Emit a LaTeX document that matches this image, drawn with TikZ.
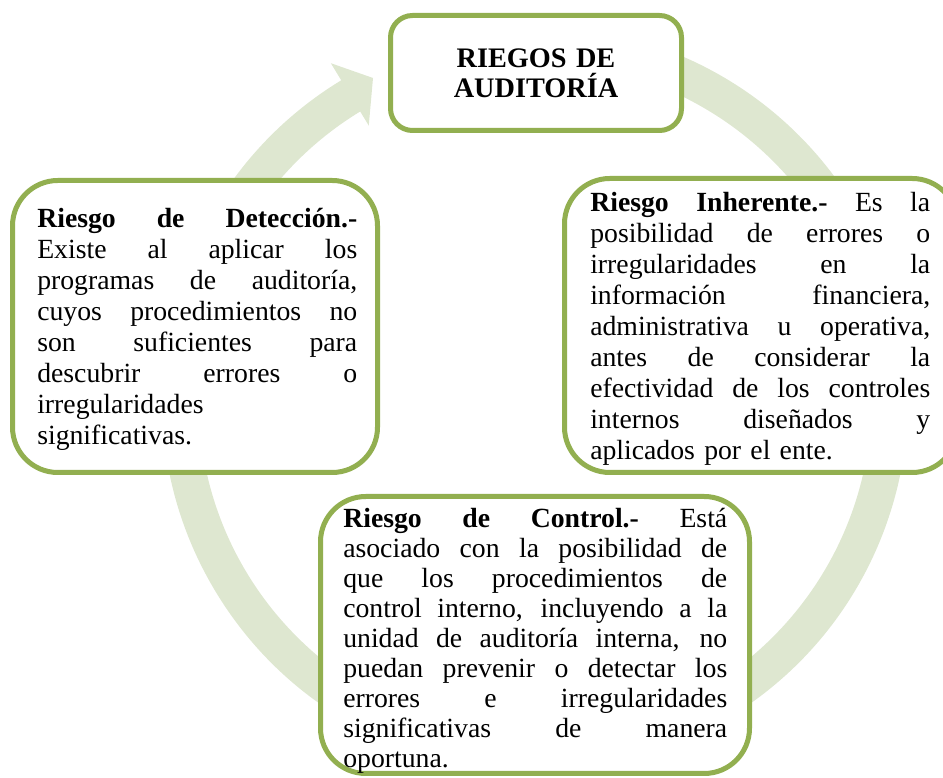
\documentclass[tikz,border=0pt]{standalone}
\usepackage{fontspec}
\setmainfont{Liberation Serif}
\usepackage{tikz}

\definecolor{verde}{RGB}{146,175,80}
\definecolor{anillo}{RGB}{222,231,208}
\newcommand{\jl}[1]{{\spaceskip=0pt\xspaceskip=0pt\makebox[\linewidth][s]{#1}}}
\tikzset{caja/.style={draw=verde, line width=3.75pt, fill=white},
  texto/.style={anchor=base west, inner sep=0pt, align=left,
    font=\fontsize{20.8}{23.25}\selectfont}}

\begin{document}
\begin{tikzpicture}[x=0.75pt,y=0.75pt]
\useasboundingbox (0,0) rectangle (943,778);
\clip (0,0) rectangle (943,778);
%% ring
\begin{scope}[shift={(535,379)}]
\fill[anillo] (121.3:336.5) -- (121.3:320) -- (-162,321) -- (121.3:393) -- (121.3:373)
  arc[start angle=121.3, end angle=455, radius=373] -- (455:336.5)
  arc[start angle=455, end angle=121.3, radius=336.5] -- cycle;
\end{scope}

%% boxes
\node[caja, rounded corners=16.5pt, minimum width=291*0.75pt, minimum height=115*0.75pt] (riesgos) at (536,705) {};
\node[caja, rounded corners=34pt, minimum width=365*0.75pt, minimum height=292*0.75pt] (deteccion) at (195,451.5) {};
\node[caja, rounded corners=34pt, minimum width=393*0.75pt, minimum height=294*0.75pt] (inherente) at (761,452.5) {};
\node[caja, rounded corners=34pt, minimum width=429*0.75pt, minimum height=277*0.75pt] (control) at (535,143) {};

%% labels
\node[texto, anchor=base, align=center, text width=291*0.75pt,
  font=\bfseries\fontsize{21.2}{22.5}\selectfont] (titulo) at (536,710) {RIEGOS DE\\AUDITORÍA};

\node[texto, text width=240pt] (tdeteccion) at (37,550) {%
\jl{\textbf{Riesgo de Detección.-}}\\
\jl{Existe al aplicar los}\\
\jl{programas de auditoría,}\\
\jl{cuyos procedimientos no}\\
\jl{son suficientes para}\\
\jl{descubrir errores o}\\
irregularidades\\
significativas.};

\node[texto, text width=255pt] (tinherente) at (590,566) {%
\jl{\textbf{Riesgo Inherente.-} Es la}\\
\jl{posibilidad de errores o}\\
\jl{irregularidades en la}\\
\jl{información financiera,}\\
\jl{administrativa u operativa,}\\
\jl{antes de considerar la}\\
\jl{efectividad de los controles}\\
\jl{internos diseñados y}\\
aplicados por el ente.};

\node[texto, text width=288pt, font=\fontsize{20.8}{22.5}\selectfont] (tcontrol) at (343,250) {%
\jl{\textbf{Riesgo de Control.-} Está}\\
\jl{asociado con la posibilidad de}\\
\jl{que los procedimientos de}\\
\jl{control interno, incluyendo a la}\\
\jl{unidad de auditoría interna, no}\\
\jl{puedan prevenir o detectar los}\\
\jl{errores e irregularidades}\\
\jl{significativas de manera}\\
oportuna.};
\end{tikzpicture}
\end{document}
